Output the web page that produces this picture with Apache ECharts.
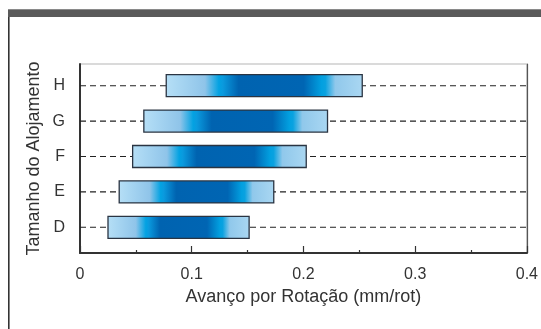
<!DOCTYPE html>
<html>
<head>
<meta charset="utf-8">
<script src="https://cdn.jsdelivr.net/npm/echarts@6/dist/echarts.min.js"></script>
<style>
    html, body { margin: 0; padding: 0; background: #fff; }
    #chart { width: 541px; height: 329px; }
</style>
</head>
<body>
<div id="chart"></div>
<script>
// tamanhos e faixas de avanço (mm/rot)
var categorias = ['D', 'E', 'F', 'G', 'H'];
var avancoMin = [0.025, 0.035, 0.047, 0.057, 0.077];
var avancoMax = [0.151, 0.173, 0.202, 0.221, 0.252];
var xTicks = [0, 0.1, 0.2, 0.3, 0.4];

var fonte = 'Liberation Sans, Arial, sans-serif';

var chart = echarts.init(document.getElementById('chart'));

var faixas = [];
for (var i = 0; i < categorias.length; i++) {
    faixas.push([avancoMin[i], avancoMax[i], i]);
}

function renderFaixa(params, api) {
    var ini = api.coord([api.value(0), api.value(2)]);
    var fim = api.coord([api.value(1), api.value(2)]);
    var cs = params.coordSys;
    var h = 22;
    return {
        type: 'group',
        children: [{
            type: 'line',
            shape: { x1: cs.x, y1: ini[1], x2: cs.x + cs.width, y2: ini[1] },
            style: { stroke: '#222', lineWidth: 1.1, lineDash: [6, 4] }
        }, {
            type: 'rect',
            shape: { x: ini[0], y: ini[1] - h / 2, width: fim[0] - ini[0], height: h },
            style: {
                fill: new echarts.graphic.LinearGradient(0, 0, 1, 0, [
                    { offset: 0, color: '#b6dff6' },
                    { offset: 0.07, color: '#a8d6f2' },
                    { offset: 0.2, color: '#8fc4e9' },
                    { offset: 0.27, color: '#03a2e2' },
                    { offset: 0.29, color: '#0a9ade' },
                    { offset: 0.37, color: '#0063b0' },
                    { offset: 0.7, color: '#0065b3' },
                    { offset: 0.79, color: '#02a0e0' },
                    { offset: 0.81, color: '#0aa2e0' },
                    { offset: 0.86, color: '#90c8eb' },
                    { offset: 1, color: '#aad7f2' }
                ]),
                stroke: '#2a3442',
                lineWidth: 1.3
            }
        }]
    };
}

var option = {
    backgroundColor: '#fff',
    animation: false,
    textStyle: { fontFamily: fonte },
    graphic: [
        { type: 'rect', shape: { x: 8, y: 9, width: 533, height: 8 }, style: { fill: '#5a5a5a' } },
        { type: 'rect', shape: { x: 8, y: 9, width: 533, height: 1 }, style: { fill: '#8a8a8a' } },
        { type: 'rect', shape: { x: 8, y: 17, width: 1.6, height: 312 }, style: { fill: '#333' } }
    ],
    grid: [
        { left: 80, right: 13, top: 64, bottom: 76, show: true, borderColor: '#b5b5b5', borderWidth: 1 },
        { left: 80, right: 13, top: 68, bottom: 84 }
    ],
    xAxis: [{
        gridIndex: 0,
        type: 'value',
        min: xTicks[0],
        max: xTicks[xTicks.length - 1],
        interval: 0.1,
        name: 'Avanço por Rotação (mm/rot)',
        nameLocation: 'middle',
        nameGap: 35,
        nameTextStyle: { fontSize: 18, color: '#333', fontFamily: fonte },
        axisLine: { show: true, lineStyle: { color: '#333', width: 2 } },
        axisTick: { show: true, inside: true, length: 7, lineStyle: { color: '#333', width: 1.2 } },
        minorTick: { show: true, splitNumber: 2, length: 3, lineStyle: { color: '#333', width: 1.2 } },
        axisLabel: {
            margin: 14,
            fontSize: 16,
            color: '#333',
            fontFamily: fonte,
            formatter: function (v) { return String(v); }
        },
        splitLine: { show: false }
    }, {
        gridIndex: 1,
        type: 'value',
        min: xTicks[0],
        max: xTicks[xTicks.length - 1],
        show: false
    }],
    yAxis: [{
        gridIndex: 0,
        type: 'value',
        min: 0,
        max: 1,
        name: 'Tamanho do Alojamento',
        nameLocation: 'middle',
        nameGap: 37,
        nameTextStyle: { fontSize: 18, color: '#333', fontFamily: fonte },
        axisLine: { show: true, lineStyle: { color: '#333', width: 2 } },
        axisTick: { show: false },
        axisLabel: { show: false },
        splitLine: { show: false }
    }, {
        gridIndex: 0,
        type: 'value',
        position: 'right',
        min: 0,
        max: 1,
        axisLine: { show: true, lineStyle: { color: '#555', width: 1.2 } },
        axisTick: { show: false },
        axisLabel: { show: false },
        splitLine: { show: false }
    }, {
        gridIndex: 1,
        type: 'category',
        data: categorias,
        axisLine: { show: false },
        axisTick: { show: false },
        axisLabel: { margin: 15, fontSize: 16, color: '#333', fontFamily: fonte },
        splitLine: { show: false }
    }],
    series: [{
        type: 'custom',
        xAxisIndex: 1,
        yAxisIndex: 2,
        renderItem: renderFaixa,
        encode: { x: [0, 1], y: 2 },
        data: faixas
    }]
};

chart.setOption(option);
</script>
</body>
</html>
